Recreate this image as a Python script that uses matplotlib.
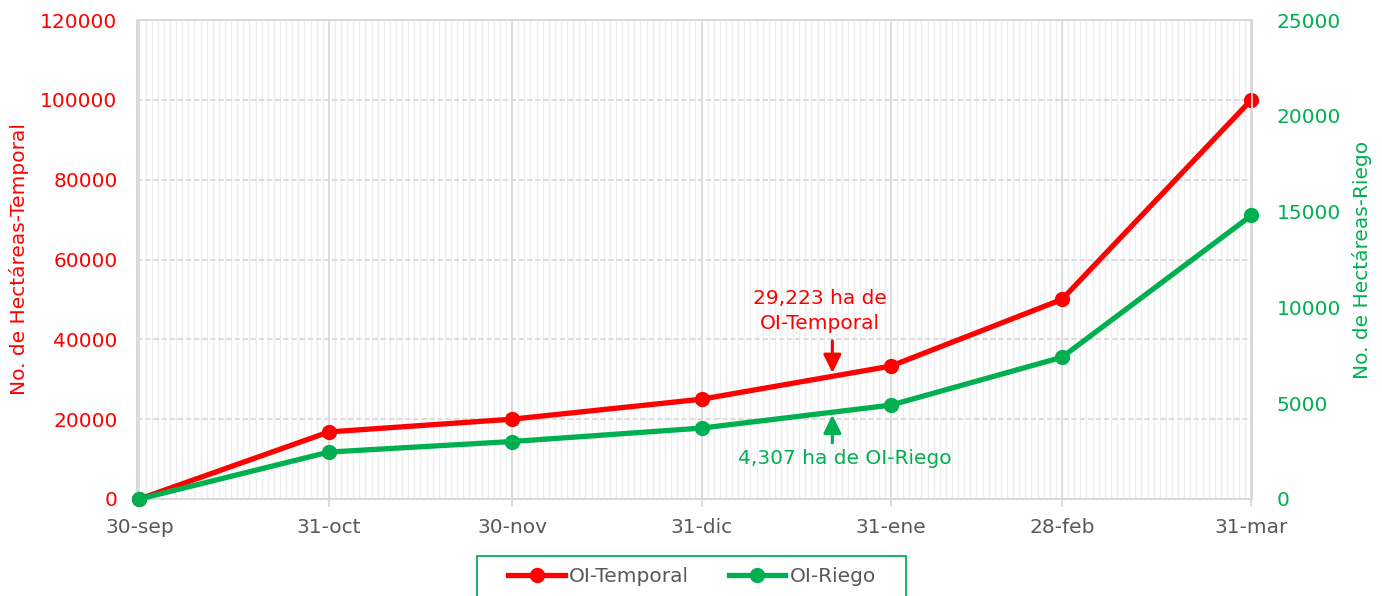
import matplotlib
matplotlib.use("Agg")
import matplotlib.pyplot as plt
import matplotlib.dates as mdates
from matplotlib.patches import Rectangle
import numpy as np
import datetime as dt

dates = ["2024-09-30", "2024-10-31", "2024-11-30", "2024-12-31", "2025-01-31", "2025-02-28", "2025-03-31"]
tick_labels = ["30-sep", "31-oct", "30-nov", "31-dic", "31-ene", "28-feb", "31-mar"]
temporal = [0, 16800, 20000, 25000, 33300, 50000, 100000]
riego = [0, 2450, 3000, 3700, 4900, 7400, 14800]
annot_date = "2025-01-21"
annot_temporal = "29,223 ha de\nOI-Temporal"
annot_riego = "4,307 ha de OI-Riego"

RED = "#ff0000"
GREEN = "#00b050"
GRAY = "#595959"
FS = 14.5

plt.rcParams['font.family'] = ['DejaVu Sans']

x = [dt.datetime.strptime(d, "%Y-%m-%d") for d in dates]
xa = dt.datetime.strptime(annot_date, "%Y-%m-%d") + dt.timedelta(hours=10)

fig = plt.figure(figsize=(13.82, 5.96), dpi=100)
ax = fig.add_axes([137/1382, 1-499/596, (1252-137)/1382, (499-20)/596])
ax2 = ax.twinx()

ax.set_xlim(x[0] - dt.timedelta(days=0.4), x[-1] + dt.timedelta(days=0.1))
ax.set_ylim(0, 120000)
ax2.set_ylim(0, 25000)
ax.set_yticks(np.arange(0, 120001, 20000))
ax2.set_yticks(np.arange(0, 25001, 5000))
ax.set_xticks(x)
ax.set_xticklabels(tick_labels)
ax.xaxis.set_minor_locator(mdates.DayLocator())
ax.grid(which='minor', axis='x', color='#eeeeee', lw=1.0)
ax.grid(which='major', axis='x', color='#d9d9d9', lw=1.3)
ax.grid(which='major', axis='y', color='#d9d9d9', lw=1.3, ls=(0, (3, 1.5)))
ax.set_axisbelow(True)

for a in (ax, ax2):
    for s in a.spines.values():
        s.set_color('#d9d9d9')
        s.set_linewidth(1.3)

ax.tick_params(axis='x', which='major', colors='#d9d9d9', labelcolor=GRAY, labelsize=FS, length=6, width=1.3, pad=8)
ax.tick_params(axis='x', which='minor', length=0)
ax.tick_params(axis='y', colors=RED, labelcolor=RED, labelsize=FS, length=0, pad=14)
ax2.tick_params(axis='y', colors=GREEN, labelcolor=GREEN, labelsize=FS, length=0, pad=18)

ax.set_ylabel("No. de Hectáreas-Temporal", color=RED, fontsize=FS, labelpad=8)
ax2.set_ylabel("No. de Hectáreas-Riego", color=GREEN, fontsize=FS, labelpad=8)

l1, = ax.plot(x, temporal, color=RED, lw=3.8, marker='o', ms=10, label="OI-Temporal", zorder=5, clip_on=False)
l2, = ax2.plot(x, riego, color=GREEN, lw=3.8, marker='o', ms=10, label="OI-Riego", zorder=5, clip_on=False)

# annotations
astyle = '-|>,head_length=0.55,head_width=0.27'
ax.annotate("", xy=(xa, 31600), xytext=(xa, 39600),
            arrowprops=dict(arrowstyle=astyle, color=RED, lw=2.2, mutation_scale=20, shrinkA=0, shrinkB=0))
ax.text(xa - dt.timedelta(days=2), 41500, annot_temporal, color=RED, fontsize=FS,
        ha='center', va='bottom', linespacing=1.45)
ax2.annotate("", xy=(xa, 4390), xytext=(xa, 2930),
             arrowprops=dict(arrowstyle=astyle, color=GREEN, lw=2.2, mutation_scale=20, shrinkA=0, shrinkB=0))
ax2.text(xa + dt.timedelta(days=2), 2630, annot_riego, color=GREEN, fontsize=FS,
         ha='center', va='top')

leg = fig.legend(handles=[l1, l2], loc='center', bbox_to_anchor=(692/1382, 1-577/596),
                 ncol=2, frameon=False, fontsize=FS, handlelength=2.8,
                 handletextpad=0.2, columnspacing=2.0, borderpad=0.3,
                 borderaxespad=0, labelcolor=GRAY)
fig.patches.append(Rectangle((477/1382, -0.05), (906-477)/1382, 0.05 + (596-556)/596,
                             transform=fig.transFigure, fill=False, edgecolor=GREEN, lw=1.3))

fig.savefig("out.png", dpi=100)
